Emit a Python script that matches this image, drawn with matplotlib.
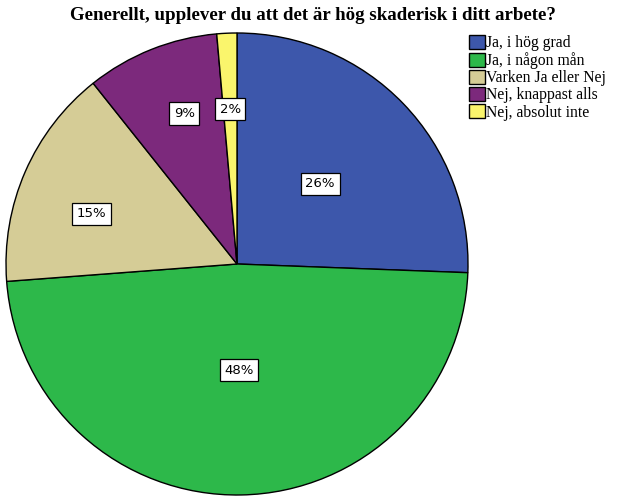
import matplotlib
matplotlib.use("Agg")
import matplotlib.pyplot as plt
import numpy as np

categories = ["Ja, i hög grad", "Ja, i någon mån", "Varken Ja eller Nej",
              "Nej, knappast alls", "Nej, absolut inte"]
values = [25.6, 48.2, 15.5, 9.3, 1.4]
pct_labels = ["26%", "48%", "15%", "9%", "2%"]
colors = ["#3D57AB", "#2DB84A", "#D5CC96", "#7C297C", "#FAF56C"]
label_dist = [0.5, 0.46, 0.665, 0.69, 0.67]
label_angle_shift = [0, 0, 4.5, -2.5, 0]

fig = plt.figure(figsize=(6.26, 5.01), dpi=100)
ax = fig.add_axes([6/626, 6/501, 462/626, 462/501])
wedges, _ = ax.pie(values, colors=colors, startangle=90, counterclock=False,
                   wedgeprops=dict(edgecolor="black", linewidth=1.0), radius=1.0)
ax.set_xlim(-1, 1)
ax.set_ylim(-1, 1)
ax.set_aspect("equal")
ax.axis("off")

for w, lab, d, s in zip(wedges, pct_labels, label_dist, label_angle_shift):
    ang = np.deg2rad((w.theta1 + w.theta2) / 2 + s)
    ax.text(d * np.cos(ang), d * np.sin(ang), lab, ha="center", va="center",
            fontsize=9.5, family="DejaVu Sans",
            bbox=dict(boxstyle="square,pad=0.35", fc="white", ec="black", lw=0.9))

fig.text(0.5, 1 - 16/501, "Generellt, upplever du att det är hög skaderisk i ditt arbete?",
         ha="center", va="center", fontsize=13.6, fontweight="bold",
         family="Liberation Serif")

leg = fig.legend(wedges, categories, loc="upper left", bbox_to_anchor=(469/626, 1 - 35/501),
                 frameon=False, prop=dict(family="Liberation Serif", size=11.3),
                 handlelength=1.0, handleheight=1.0, handletextpad=0.1,
                 labelspacing=0.05, borderaxespad=0, borderpad=0)
fig.savefig("out.png", dpi=100, facecolor="white")
